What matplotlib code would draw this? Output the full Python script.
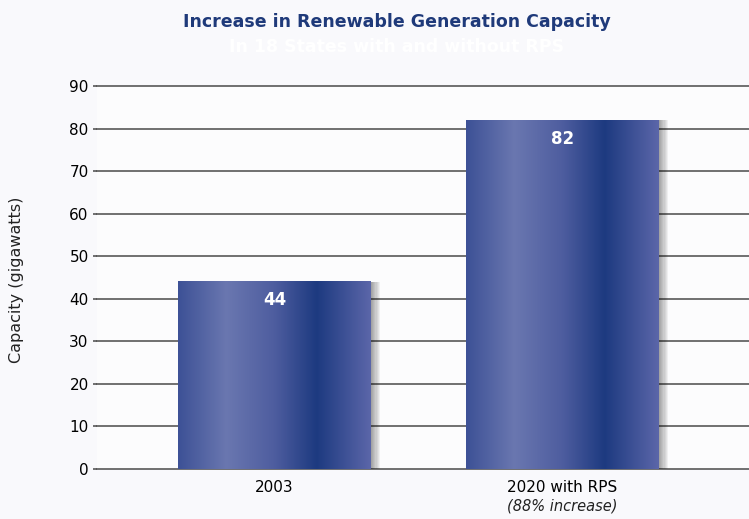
import numpy as np
import matplotlib.pyplot as plt
from matplotlib.colors import LinearSegmentedColormap
from matplotlib.patches import Rectangle

categories = ['2003', '2020 with RPS']
sub_labels = ['', '(88% increase)']
values = [44, 82]
yticks = [0, 10, 20, 30, 40, 50, 60, 70, 80, 90]

bar_cmap = LinearSegmentedColormap.from_list(
    'bar', [(0.0, '#3d5196'), (0.25, '#6a77b0'), (0.5, '#4e5d9f'),
            (0.72, '#1d3a80'), (1.0, '#5b66a9')])

fig = plt.figure(figsize=(7.49, 5.19), dpi=100, facecolor='#f9f9fc')
ax = fig.add_axes([0.1295, 0.0963, 0.8705, 0.7377])
ax.set_facecolor('#fcfcfd')

width = 0.67
x = np.arange(len(values))

for yt in yticks:
    ax.axhline(yt, color='#4a4a4a', lw=1.1, zorder=1, clip_on=False)

grad = np.linspace(0, 1, 256).reshape(1, -1)
for xi, v in zip(x, values):
    # soft shadow on the right
    for k in range(8):
        ax.add_patch(Rectangle((xi + width / 2, 0), 0.004 * (k + 1), v,
                               facecolor='#000000', alpha=0.05, lw=0, zorder=2))
    ax.imshow(grad, cmap=bar_cmap, aspect='auto', zorder=3,
              extent=(xi - width / 2, xi + width / 2, 0, v))
    ax.text(xi, v - 2.2, str(v), ha='center', va='top', color='white',
            fontsize=12, fontweight='bold', zorder=4)

ax.set_xlim(-0.616, 1.648)
ax.set_ylim(0, 90)
for s in ax.spines.values():
    s.set_visible(False)
ax.set_yticks(yticks)
ax.tick_params(axis='y', length=3, width=1.1, color='#4a4a4a', labelsize=11, pad=3)
ax.tick_params(axis='x', length=0, labelsize=11, pad=8)
ax.set_xticks(x)
ax.set_xticklabels(categories)
ax.text(x[1], -7.0, sub_labels[1], ha='center', va='top', fontsize=10.5,
        style='italic', color='#222222')

fig.text(0.012, 0.46, 'Capacity (gigawatts)', rotation=90, ha='left', va='center',
         fontsize=11.5, color='#222222')
fig.text(0.53, 0.957, 'Increase in Renewable Generation Capacity', ha='center',
         va='center', fontsize=12.5, fontweight='bold', color='#1f3a7a')
fig.text(0.53, 0.91, 'In 18 States with and without RPS', ha='center',
         va='center', fontsize=12.5, fontweight='bold', color='#ffffff')

fig.savefig('out.png', dpi=100, facecolor=fig.get_facecolor())
